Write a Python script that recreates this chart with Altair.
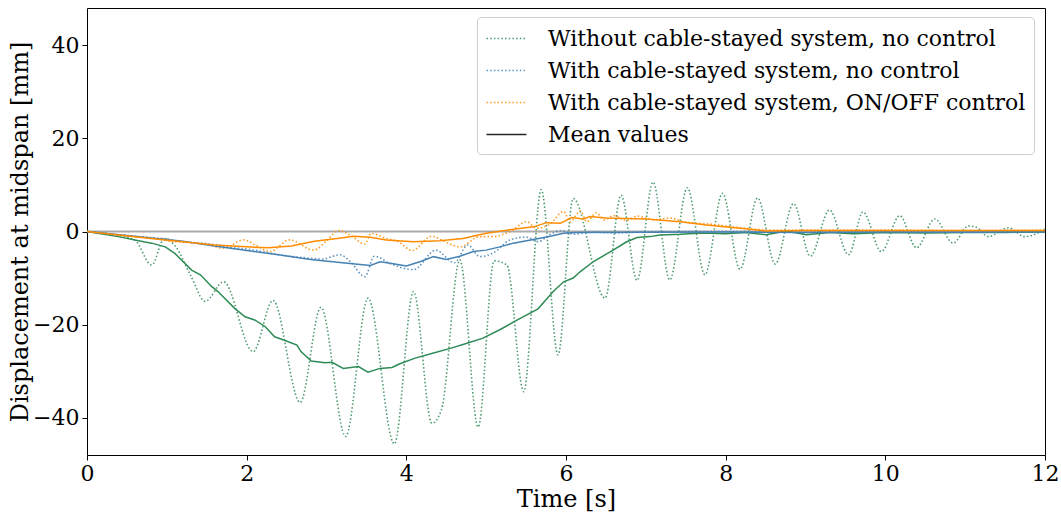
import altair as alt
import pandas as pd

# Series names (legend order) and colours
RAW_NAMES = [
    "Without cable-stayed system, no control",
    "With cable-stayed system, no control",
    "With cable-stayed system, ON/OFF control",
]
MEAN_LABEL = "Mean values"
COLORS = ["#2e8b57", "#4682b4", "#ff8c00"]

# --- Without cable-stayed system, no control (raw response) ---
t_free = [0, 0.3, 0.6, 0.81, 0.97, 1.1, 1.3, 1.48, 1.71, 2.08, 2.33, 2.67, 2.93,
          3.24, 3.52, 3.85, 4.09, 4.32, 4.44, 4.67, 4.9, 5.1, 5.26, 5.47, 5.69,
          5.9, 6.09, 6.49, 6.69, 6.89, 7.09, 7.3, 7.52, 7.74, 7.96, 8.18, 8.4,
          8.62, 8.85, 9.06, 9.3, 9.54, 9.72, 9.95, 10.18, 10.39, 10.62, 10.85,
          11.04, 11.14, 11.29, 11.54, 11.75, 12.0]
y_free = [0, -0.6, -1.9, -7.2, -1.5, -3.0, -9.5, -15.0, -10.8, -25.8, -14.8, -36.7,
          -16.3, -44.0, -14.3, -45.6, -12.9, -41.2, -38.3, -6.1, -42.0, -6.3,
          -7.2, -34.4, 9.0, -26.5, 7.1, -14.3, 7.8, -10.5, 10.6, -10.4, 9.4,
          -9.3, 8.2, -8.1, 7.2, -7.0, 6.0, -5.3, 4.6, -5.0, 4.2, -4.3, 3.4,
          -3.5, 2.7, -2.5, 1.2, 0.9, -1.1, 0.8, -1.1, 0.5]

# --- With cable-stayed system, no control (raw response) ---
t_cable = [0, 0.4, 0.8, 1.0, 1.2, 1.5, 1.8, 2.1, 2.4, 2.7, 2.95, 3.17, 3.3, 3.48,
           3.6, 3.8, 4.09, 4.37, 4.6, 4.77, 4.92, 5.09, 5.3, 5.5, 5.65, 5.8,
           5.94, 6.1, 6.3, 6.6, 7.0, 8.0, 9.0, 10.0, 11.0, 12.0]
y_cable = [0, -0.7, -1.3, -1.6, -2.2, -2.6, -3.4, -4.0, -5.0, -5.6, -5.9, -5.0,
           -6.5, -9.7, -5.3, -6.9, -8.2, -4.0, -6.7, -2.9, -5.4, -4.6, -1.8,
           -1.2, -2.2, -0.6, 0.2, -0.6, -0.1, -0.3, -0.1, 0.0, -0.2, -0.1, -0.1, 0.0]

# --- With cable-stayed system, ON/OFF control (raw response) ---
t_ctrl = [0, 0.4, 0.8, 1.12, 1.3, 1.5, 1.71, 1.96, 2.12, 2.29, 2.54, 2.84, 3.0,
          3.15, 3.3, 3.48, 3.56, 3.75, 3.9, 4.07, 4.32, 4.45, 4.67, 4.92, 5.09,
          5.3, 5.51, 5.63, 5.8, 5.97, 6.05, 6.18, 6.26, 6.38, 6.48, 6.6, 6.75,
          6.9, 7.1, 7.3, 7.5, 7.8, 8.2, 8.6, 9.0, 10.0, 11.0, 12.0]
y_ctrl = [0, -0.8, -1.4, -2.2, -2.4, -2.8, -3.6, -1.8, -3.0, -4.3, -1.8, -4.0,
          -2.0, 0.2, -0.8, -2.7, -0.4, -1.5, -2.2, -4.1, -1.0, -1.9, -3.3, -1.1,
          -1.1, 0.0, 2.1, 0.7, 1.6, 4.3, 2.1, 4.4, 2.1, 4.0, 2.5, 3.4, 2.4, 3.3,
          2.5, 2.9, 2.0, 1.6, 0.8, 0.3, 0.3, 0.3, 0.2, 0.3]

# --- Mean values ---
t_free_mean = [0, 0.39, 0.71, 0.81, 0.98, 1.1, 1.31, 1.42, 1.56, 1.64, 1.85, 1.98,
               2.1, 2.23, 2.35, 2.48, 2.63, 2.68, 2.81, 2.98, 3.07, 3.21, 3.4,
               3.52, 3.67, 3.82, 3.92, 4.11, 4.34, 4.55, 4.76, 4.96, 5.17, 5.38,
               5.65, 5.84, 5.97, 6.09, 6.18, 6.34, 6.59, 6.76, 6.89, 7.05, 7.18,
               7.43, 7.7, 8.0, 8.25, 8.51, 8.76, 9.01, 9.3, 9.6, 10.0, 10.5, 11.0,
               11.5, 12.0]
y_free_mean = [0, -1.1, -2.2, -2.5, -3.3, -4.7, -8.3, -9.3, -11.8, -12.9, -16.5,
               -18.3, -19.0, -20.4, -22.6, -23.4, -24.4, -25.8, -27.8, -28.2,
               -28.1, -29.4, -29.0, -30.2, -29.4, -29.2, -28.4, -27.2, -26.1,
               -25.1, -24.0, -22.9, -21.1, -19.1, -16.6, -12.9, -10.8, -10.0,
               -8.6, -6.5, -4.0, -2.2, -1.3, -1.1, -0.75, -0.6, -0.3, -0.5, -0.2,
               -0.7, 0.1, -0.7, -0.2, -0.5, -0.2, -0.3, -0.2, -0.2, -0.1]

t_cable_mean = [0, 0.4, 0.8, 1.2, 1.6, 2.0, 2.4, 2.8, 3.2, 3.55, 3.67, 3.8, 4.0,
                4.17, 4.34, 4.5, 4.67, 4.84, 5.0, 5.17, 5.34, 5.59, 5.76, 5.97,
                6.13, 7.0, 8.0, 9.0, 10.0, 11.0, 12.0]
y_cable_mean = [0, -0.7, -1.4, -2.1, -3.1, -4.1, -5.0, -6.0, -6.7, -7.3, -6.5,
                -6.8, -7.4, -6.5, -5.4, -6.0, -5.3, -4.3, -4.0, -3.3, -2.5, -1.7,
                -1.2, -0.4, -0.2, -0.15, -0.1, -0.2, -0.1, -0.15, -0.1]

t_ctrl_mean = [0, 0.4, 0.8, 1.2, 1.6, 2.0, 2.27, 2.56, 2.85, 3.13, 3.34, 3.55,
               3.75, 4.09, 4.42, 4.71, 5.0, 5.34, 5.59, 5.76, 5.93, 6.07, 6.22,
               6.3, 6.5, 6.72, 7.01, 7.43, 7.76, 8.18, 8.51, 9.0, 10.0, 11.0, 12.0]
y_ctrl_mean = [0, -0.75, -1.5, -2.2, -2.9, -3.3, -3.5, -3.1, -2.1, -1.5, -1.0,
               -1.25, -1.8, -2.2, -2.0, -1.5, -0.4, 0.5, 1.0, 1.9, 1.75, 3.0,
               2.7, 3.2, 2.9, 2.8, 2.7, 2.1, 1.4, 0.7, 0.1, 0.2, 0.2, 0.2, 0.2]


def frame(name, ts, ys):
    return pd.DataFrame({"t": ts, "v": ys, "series": name})


raw_df = pd.concat([
    frame(RAW_NAMES[0], t_free, y_free),
    frame(RAW_NAMES[1], t_cable, y_cable),
    frame(RAW_NAMES[2], t_ctrl, y_ctrl),
])
mean_df = pd.concat([
    frame("m0", t_free_mean, y_free_mean),
    frame("m1", t_cable_mean, y_cable_mean),
    frame("m2", t_ctrl_mean, y_ctrl_mean),
])

FONT = "DejaVu Serif"
x_enc = alt.X("t:Q", title="Time [s]",
              scale=alt.Scale(domain=[0, 12], nice=False, zero=False),
              axis=alt.Axis(values=[0, 2, 4, 6, 8, 10, 12], format="d",
                            labelFlush=False, titlePadding=3))
y_enc = alt.Y("v:Q", title="Displacement at midspan [mm]",
              scale=alt.Scale(domain=[-48, 48], nice=False),
              axis=alt.Axis(values=[-40, -20, 0, 20, 40], format="d",
                            labelFlush=False, titlePadding=0))

zero_line = alt.Chart(pd.DataFrame({"v": [0]})).mark_rule(
    color="#a9a9a9", strokeWidth=2
).encode(y="v:Q")

legend_domain = RAW_NAMES + [MEAN_LABEL]
DOTS = [1.5, 2.2]

# one legend spec shared by colour and dash so both merge into a single box
shared_legend = alt.Legend(
    title=None,
    orient="none",
    legendX=390,
    legendY=9,
    symbolType="M-1.6,0H1.6",
    symbolSize=625,
    symbolStrokeWidth=1.5,
    symbolOffset=8,
    labelOffset=28,
    labelFont=FONT,
    labelFontSize=22,
    labelColor="black",
    labelLimit=1000,
    rowPadding=7,
    padding=8,
    fillColor="rgba(255,255,255,0.8)",
    strokeColor="#cccccc",
    cornerRadius=4,
)

raw = alt.Chart(raw_df).mark_line(
    interpolate="monotone", strokeWidth=1.6, opacity=0.85, strokeCap="butt"
).encode(
    x=x_enc,
    y=y_enc,
    color=alt.Color(
        "series:N",
        scale=alt.Scale(domain=legend_domain, range=COLORS + ["black"]),
        legend=shared_legend,
    ),
    strokeDash=alt.StrokeDash(
        "series:N",
        scale=alt.Scale(domain=legend_domain,
                        range=[DOTS, DOTS, DOTS, [1, 0]]),
        legend=shared_legend,
    ),
    detail="series:N",
)

means = alt.Chart(mean_df).mark_line(strokeWidth=1.5).encode(
    x=x_enc,
    y=y_enc,
    color=alt.Color("series:N",
                    scale=alt.Scale(domain=["m0", "m1", "m2"], range=COLORS),
                    legend=None),
)

chart = alt.layer(zero_line, raw, means).resolve_scale(
    color="independent", strokeDash="independent"
).properties(
    width=958,
    height=447,
    background="white",
    autosize=alt.AutoSizeParams(type="none"),
    padding={"left": 87, "top": 8, "right": 16, "bottom": 57},
).configure_view(
    stroke="black", strokeWidth=1
).configure_axis(
    grid=False,
    domain=False,
    tickColor="black",
    tickSize=5,
    tickWidth=1,
    labelFont=FONT,
    labelFontSize=22,
    labelColor="black",
    labelPadding=3,
    titleFont=FONT,
    titleFontSize=24,
    titleFontWeight="normal",
    titleColor="black",
)

chart.save("out.html", embed_options={"renderer": "svg", "actions": False})
